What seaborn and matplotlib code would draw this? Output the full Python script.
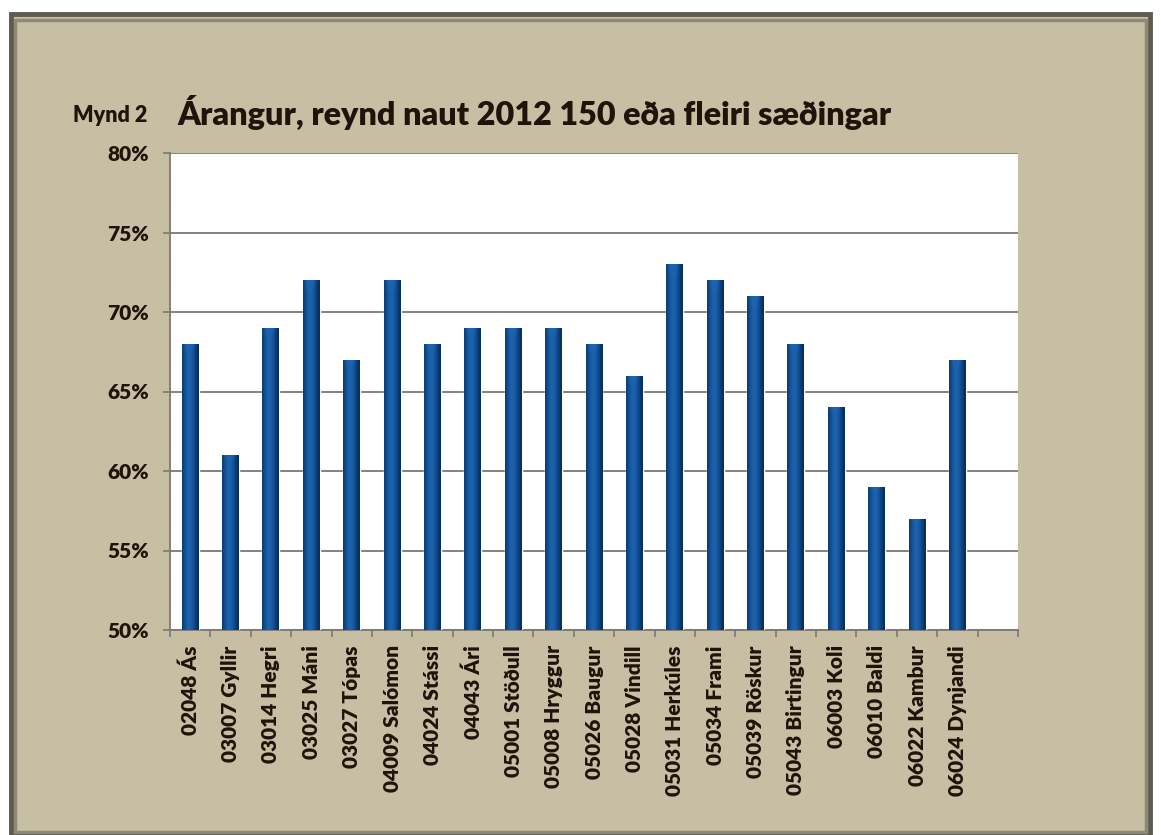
import matplotlib
matplotlib.use("Agg")
import matplotlib.pyplot as plt
import matplotlib.ticker as mticker
from matplotlib.colors import LinearSegmentedColormap
from matplotlib.patches import Rectangle
import numpy as np
import pandas as pd
import seaborn as sns

# data
bulls = [
    "02048 Ás", "03007 Gyllir", "03014 Hegri", "03025 Máni", "03027 Tópas",
    "04009 Salómon", "04024 Stássi", "04043 Ári", "05001 Stöðull", "05008 Hryggur",
    "05026 Baugur", "05028 Vindill", "05031 Herkúles", "05034 Frami", "05039 Röskur",
    "05043 Birtingur", "06003 Koli", "06010 Baldi", "06022 Kambur", "06024 Dynjandi",
]
success = [0.68, 0.61, 0.69, 0.72, 0.67, 0.72, 0.68, 0.69, 0.69, 0.69,
           0.68, 0.66, 0.73, 0.72, 0.71, 0.68, 0.64, 0.59, 0.57, 0.67]
y_ticks = [0.50, 0.55, 0.60, 0.65, 0.70, 0.75, 0.80]

df = pd.DataFrame({"naut": bulls, "arangur": success})

sns.set_theme(style="white")
plt.rcParams["font.family"] = ["Lato", "DejaVu Sans"]

bg = "#c6bfa4"
grid_col = "#7d7870"
text_col = "#1e140a"

fig = plt.figure(figsize=(11.61, 8.35), dpi=100, facecolor="white")

# beige panel with dark shadowed border
W, H = 1161, 835
panel = Rectangle((11 / W, 0.5 / H), 1139 / W, (833 - 14) / H + 2 / H,
                  transform=fig.transFigure, facecolor=bg,
                  edgecolor="#5f5a4e", linewidth=3.5, zorder=-10)
fig.patches.append(panel)
inner = Rectangle((15 / W, 3 / H), 1131 / W, (826 - 14) / H,
                  transform=fig.transFigure, facecolor="none",
                  edgecolor="#8e8878", linewidth=2.5, zorder=-9)
fig.patches.append(inner)

ax = fig.add_axes([170 / W, 1 - 630 / H, (1018 - 170) / W, (630 - 153) / H])
ax.set_facecolor("white")

sns.barplot(data=df, x="naut", y="arangur", color="#0f4a8c", width=0.42,
            ax=ax, zorder=3)

# cylinder-like shading on the bars
prof = np.linspace(-1, 1, 64)
horiz = 1 - np.abs(prof + 0.15) ** 1.6
cmap = LinearSegmentedColormap.from_list("bar", ["#08305f", "#0e4688", "#1d63ac"])
for p in ax.patches:
    x0, w, h = p.get_x(), p.get_width(), p.get_height()
    top = p.get_y() + h
    n = 200
    vert = np.ones(n)
    vert[-8:] = np.linspace(1.0, 1.2, 8)
    img = np.clip(np.outer(vert, horiz), 0, 1)
    im = ax.imshow(img, cmap=cmap, vmin=0, vmax=1, aspect="auto",
                   extent=[x0, x0 + w, 0.5, top], origin="lower",
                   zorder=4, interpolation="bilinear")
    im.set_clip_path(p)

ax.set_xlim(-0.5, len(bulls) + 0.5)
ax.set_ylim(0.5, 0.8)
ax.set_yticks(y_ticks)
ax.yaxis.set_major_formatter(mticker.PercentFormatter(1.0, decimals=0))
ax.yaxis.grid(True, color=grid_col, linewidth=1.3, zorder=0)
ax.set_axisbelow(True)

ax.set_xlabel("")
ax.set_ylabel("")
ax.set_xticks(range(len(bulls)))
ax.set_xticklabels(bulls, rotation=90, fontsize=15, fontweight="heavy", color=text_col)
ax.set_xticks(np.arange(-0.5, len(bulls) + 1, 1), minor=True)
ax.tick_params(axis="x", which="major", length=0, pad=11)
ax.tick_params(axis="x", which="minor", length=5, width=1.2, color=grid_col,
               direction="out", bottom=True)
ax.tick_params(axis="y", length=5, width=1.2, color=grid_col, direction="out",
               left=True, pad=10, labelsize=15, labelcolor=text_col)
for lab in ax.get_yticklabels():
    lab.set_fontweight("heavy")

for side in ["top", "right"]:
    ax.spines[side].set_visible(False)
ax.spines["left"].set_color(grid_col)
ax.spines["left"].set_linewidth(1.3)
ax.spines["bottom"].set_color(grid_col)
ax.spines["bottom"].set_linewidth(1.3)

fig.text(73 / W, 1 - 122 / H, "Mynd 2", fontsize=15.5, fontweight="heavy",
         color=text_col, va="baseline", ha="left")
fig.text(177 / W, 1 - 125 / H, "Árangur, reynd naut 2012 150 eða fleiri sæðingar",
         fontsize=23.3, fontweight="heavy", color=text_col, va="baseline", ha="left")

fig.savefig("out.png", dpi=100, facecolor="white")
